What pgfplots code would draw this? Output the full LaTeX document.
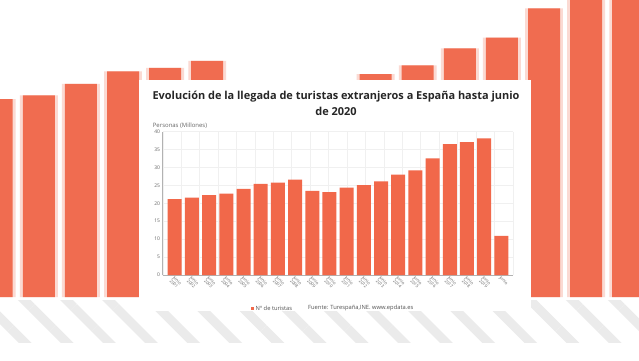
\documentclass[border=0pt]{standalone}
\usepackage{fontspec}
\setmainfont{Open Sans}
\usepackage{pgfplots}
\usepackage{pgfplotstable}
\pgfplotsset{compat=1.18}
\usetikzlibrary{patterns.meta}
\definecolor{barc}{RGB}{241,104,74}
\definecolor{bgbar}{RGB}{240,108,80}
\definecolor{txt}{RGB}{102,102,102}
\pgfplotstableread{
i v
0 21.2
1 21.6
2 22.3
3 22.7
4 24.0
5 25.4
6 25.8
7 26.6
8 23.5
9 23.1
10 24.4
11 25.1
12 26.1
13 28.0
14 29.2
15 32.5
16 36.5
17 37.1
18 38.1
19 10.9
}\datatab
\begin{document}
\begin{tikzpicture}[x=1bp,y=1bp]
\useasboundingbox (0,0) rectangle (639,360);
\fill[white] (0,0) rectangle (639,360);
\fill[pattern={Lines[angle=-45,distance=29.8bp,line width=9bp]}, pattern color=gray!16] (0,18) rectangle (639,60);
\begin{axis}[at={(0bp,0bp)},anchor=south west,width=639bp,height=360bp,scale only axis,
  xmin=2.078,xmax=17.256,ymin=-7.09,ymax=33.45,axis line style={draw=none},ticks=none]
\addplot[ybar,bar shift=0pt,bar width=0.9,fill=bgbar!25,draw=none] table[x=i,y=v]{\datatab};
\addplot[ybar,bar shift=0pt,bar width=0.76,fill=bgbar,draw=none] table[x=i,y=v]{\datatab};
\end{axis}
\fill[white] (138.5,49) rectangle (531,280);
% grid
\begin{axis}[at={(162.7bp,85bp)},anchor=south west,width=350bp,height=143.4bp,scale only axis,
  xmin=0,xmax=19,ymin=0,ymax=40,xtick={0,1,...,19},ytick={0,5,...,40},
  xticklabels={},yticklabels={},major tick length=0,axis line style={draw=none},
  grid=major,grid style={gray!12,line width=0.4bp}]
\addplot[draw=none] coordinates {(0,0)};
\end{axis}
\begin{axis}[at={(162.7bp,85bp)},anchor=south west,width=350bp,height=143.4bp,scale only axis,
  xmin=-0.7,xmax=19.66,ymin=0,ymax=40,ytick={0,5,...,40},xtick={0,1,...,19},
  xticklabels={{Junio\\2001},{Junio\\2002},{Junio\\2003},{Junio\\2004},{Junio\\2005},{Junio\\2006},{Junio\\2007},{Junio\\2008},{Junio\\2009},{Junio\\2010},{Junio\\2011},{Junio\\2012},{Junio\\2013},{Junio\\2014},{Junio\\2015},{Junio\\2016},{Junio\\2017},{Junio\\2018},{Junio\\2019},{Junio}},
  axis lines*=left,axis line style={gray!60,line width=0.5bp},
  major tick length=0,
  /pgf/number format/assume math mode=true,
  yticklabel style={font=\fontsize{5}{5.2}\selectfont,text=txt,inner sep=1bp,xshift=-1.5bp},
  xticklabel style={font=\fontsize{4.3}{4.5}\selectfont,text=txt,rotate=-45,anchor=north west,align=center,inner sep=0.4bp}]
\addplot[ybar,bar shift=0pt,bar width=14bp,fill=barc,draw=none] table[x=i,y=v]{\datatab};
\end{axis}
\node[font=\bfseries\fontsize{11}{13}\selectfont,text=black!85] at (336,263) {Evolución de la llegada de turistas extranjeros a España hasta junio};
\node[font=\bfseries\fontsize{11}{13}\selectfont,text=black!85] at (336,248.5) {de 2020};
\node[anchor=west,font=\fontsize{6}{7}\selectfont,text=txt,inner sep=0] at (152.7,234.7) {Personas (Millones)};
\fill[barc] (250.8,50.5) rectangle (253.8,53.5);
\node[anchor=west,font=\fontsize{5.8}{7}\selectfont,text=txt!80!black,inner sep=0] at (255.5,52) {Nº de turistas};
\node[anchor=west,font=\fontsize{5.8}{7}\selectfont,text=txt!80!black,inner sep=0] at (308,52) {Fuente: Turespaña,INE. www.epdata.es};
\end{tikzpicture}
\end{document}
